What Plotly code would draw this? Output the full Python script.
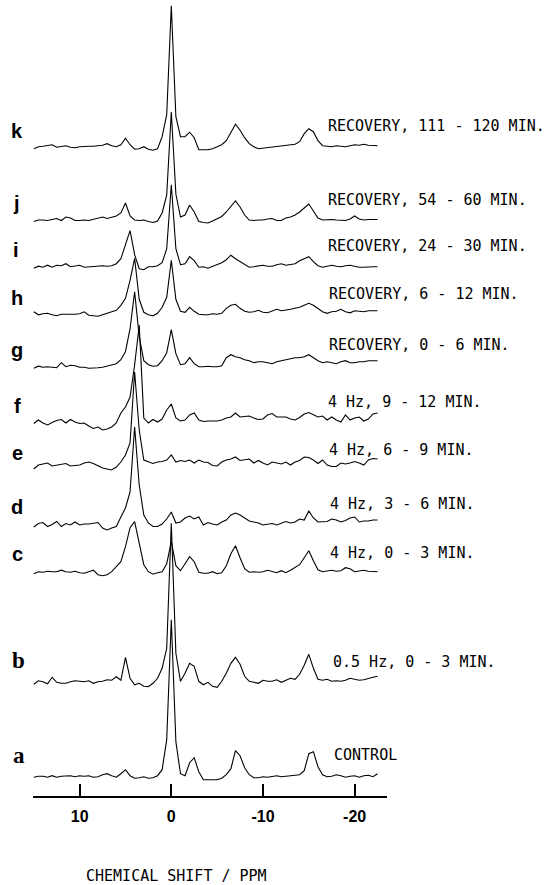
import plotly.graph_objects as go

# ---------------- data ----------------
PPM = [15.0, 14.5, 14.0, 13.5, 13.0, 12.5, 12.0, 11.5, 11.0, 10.5,
       10.0, 9.5, 9.0, 8.5, 8.0, 7.5, 7.0, 6.5, 6.0, 5.5,
       5.0, 4.5, 4.0, 3.5, 3.0, 2.5, 2.0, 1.5, 1.0, 0.5,
       0.0, -0.5, -1.0, -1.5, -2.0, -2.5, -3.0, -3.5, -4.0, -4.5,
       -5.0, -5.5, -6.0, -6.5, -7.0, -7.5, -8.0, -8.5, -9.0, -9.5,
       -10.0, -10.5, -11.0, -11.5, -12.0, -12.5, -13.0, -13.5, -14.0, -14.5,
       -15.0, -15.5, -16.0, -16.5, -17.0, -17.5, -18.0, -18.5, -19.0, -19.5,
       -20.0, -20.5, -21.0, -21.5, -22.0, -22.5]

SPEC_A = [-0.5, 0.5, 0.5, -0.5, 1, -0.5, 0.5, 0.5, 1, 0,
          1, 0.5, 1, -0.5, 0, 2, 3, 1, -0.5, 3,
          7, 1, -1.5, -1, 0, -1.5, -1, 1, 7, 37,
          157, 35, 3, 1, 14, 19, 5, -3, -3, -2.5,
          -3, -1.5, 2, 8, 26, 21, 9, 2, -1, -1,
          0, -0.5, 0, 1, 0, 0.5, 1, 1.5, 2, 6,
          23, 25, 10, 2, 0, 0.5, 2, 1, -0.5, 0.5,
          1, -0.5, 1, 1.5, 0, 3]

SPEC_B = [-1, 2.5, 1.5, -0.5, 6, 1, 0, 0, 1.5, 2.5,
          2, 1.5, 2.5, 0, 1.5, 2, 3.5, 3, 6.5, 3,
          26, 5, -1.5, 0, -3, -3.5, 0, 5, 15, 35,
          160, 30, 2, 10, 20, 17, 2, -1.5, 1, -3,
          -4, 2, 10, 20, 26, 19, 7, 2, 1, 0,
          3, 2, 2, 3.5, 1, 3, 5, 4, 9, 18,
          29, 15, 4, 3, 4, 2, 2.5, 2, 3, 5,
          4, 3, 3.5, 5, 6, 7]

SPEC_C = [-2, 0, -0.5, 0.5, 0, 0, 1.5, 0, -0.5, 0.5,
          -1, -1.5, 0, 1.5, -3, -4, -3, 0, 5, 10,
          25, 44, 50, 30, 7, 0, -2.5, -1, 0, 8,
          30, 6, 1, 8, 15, 10, -0.5, -1.5, -1.5, 0,
          -2, -1, 6, 18, 26, 14, 3, -0.5, 0, -0.5,
          0, 1.5, 0, -1, 1, -1, 1.5, 4, 7, 14,
          21, 11, 2, 0, 1, 1.5, 0.5, 1, 4, 3,
          0, 1, 1.5, 0.5, 0, 0]

SPEC_D = [-2, 1.5, 2.5, -1.5, 0.5, 3.5, -1.5, 1.5, 0, 3,
          0, 1, 1, 2, 2.5, -3, -5, -3, -1.5, 8,
          17, 33, 98, 40, 10, 2, -1.5, -1.5, 1, 6,
          13, 2, 3, 7, 9, 6, 8, 0, 2.5, 1,
          0, 3, 5, 10, 12, 10, 7, 4, 3, 2,
          0, 1, 1.5, 0, 2, 3.5, 2, 3, 6, 5,
          14, 7, 3, 3, 3.5, 6, 5, 3, 4.5, 7,
          8, 3, 4, 4, 5, 5]

SPEC_E = [-4, 0, 1, 2, -1, 0, 0.5, 1.5, -1, -0.5,
          0, 2, 3, 1.5, -1, -3, -4, -5, -2, 3,
          10, 22, 93, 35, 5, 3, 1.5, 3, 3.5, 5,
          10, 3, 4.5, 3.5, 5, 2, 5, 3, 2.5, -0.5,
          -1, 3, 5, 6, 8, 4.5, 5.5, 6, 2, 4.5,
          2, 0, 3, 2, 1, 3, 0, 3, 4.5, 8,
          7.5, 5, 1.5, 5, 0, -1.5, -1.5, 2, 1, 2,
          3.5, 2, 0, 5, 6.5, 6]

SPEC_F = [1.5, 5, 2, 0, 2.5, 4.5, 5.5, 2, 5.5, 3,
          1.5, 2, -1, -3.5, -2, -5, -4, -2, 2, 12,
          18, 28, 60, 100, 7, 2, 5.5, 3, 6, 15,
          21, 7, 4, 5, 10, 12, 5, 3.5, 4, 4,
          4, 5, 7, 8, 12, 8, 8.5, 9, 7, 5.5,
          6, 10, 11.5, 8, 8, 8, 6, 5, 7.5, 11,
          12.5, 10, 8, 9, 5, 8, 5, 3, 10, 5,
          7, 8, 4, 6, 11, 12]

SPEC_G = [-1.5, 0.5, -0.5, 0, -0.5, -1, 4, 0, 1.5, 1,
          -0.5, -0.5, -1.5, -1.5, -1, -0.5, 0.5, 2, 3, 7,
          15, 38, 75, 30, 6, 2, 0.5, 1, 6, 14,
          37, 13, 2, 3, 9, 3, 0, 0, 0.5, 0,
          0, 1, 9, 12, 10, 9, 7, 6, 4, 5,
          5, 4, 3, 5, 6, 7, 8, 9, 9, 10,
          12, 9, 6, 4, 5, 4, 3, 5, 6, 4,
          4, 5, 5, 6, 6, 6]

SPEC_H = [1.5, -1.5, -0.5, 0, -1.5, -2.5, -1, -1, -1.5, -1,
          -0.5, 1.5, -2, -2.5, -3, -1.5, 0, 1, 3, 8,
          15, 33, 55, 14, 1, -1.5, -2.5, 0, 6, 16,
          53, 14, 2, 1, 6, 2, -1, -1.5, -1.5, -0.5,
          -1, 0, 5, 8, 9, 5, 2, 1, 1.5, 3,
          1, 0.5, 2.5, 4, 2.5, 3, 4, 5, 6, 8,
          10, 8, 5, 1.5, 0, 1.5, 2, 4, 1.5, 0.5,
          2.5, 2, 1.5, 2.5, 2.5, 2.5]

SPEC_I = [-1.5, 0.5, -0.5, 1.5, -0.5, 1.5, 1, 3, 0, 0.5,
          1.5, -0.5, 0, 0.5, 1, 1, 0.5, 1, 3, 8,
          22, 36, 12, -2, -3, 0, 0, 1, 4, 18,
          82, 18, 2, 3, 10, 6, -0.5, 0, -1.5, 0.5,
          2, 4, 7, 11.5, 8, 5, 2, -0.5, 0, 0.5,
          1.5, 0.5, 0.5, 2, 3, 1.5, 2, 3, 6, 8,
          10, 5, 1, -0.5, 0.5, 1.5, 0.5, 0, 1, 1.5,
          0.5, -0.5, -0.5, 0, 0, 0]

SPEC_J = [-1.5, 0, 0, -0.5, 0.5, 1.5, -0.5, 3, 2, -0.5,
          -0.5, 0, -0.5, 0.5, 1.5, 3, 1.5, 2.5, 4, 7,
          17, 4, 0, -0.5, 0, -1.5, -2.5, -1, 7, 25,
          108, 26, 3, 5, 15, 8, -1.5, -2.5, -3, -1,
          1, 3.5, 8, 14, 19, 13, 5, 0, -0.5, 0,
          0, 1, 1.5, -0.5, -0.5, 2, 3, 5, 8, 12,
          16, 9, 2, 0, 0.5, 0.5, 0, 0, -0.5, 1,
          4, 1, 0, 0.5, 0.5, 0.5]

SPEC_K = [-2, 0, 0.5, 1.5, 2, -0.5, 0.5, 1, -0.5, -1,
          0, 0.5, 0.5, 0.5, 1, 1.5, 3, 1, 0, 2,
          8.5, 2, -2.5, -2, 0, -2.5, -3.5, -2, 10, 32,
          141, 30, 10, 10, 14.5, 9, -3, -3, -3, -2,
          0, 2, 6, 14, 22.5, 16.5, 9, 3, 0, -2,
          -1.5, -0.5, 0, 0, 0.5, 1, 1.5, 2.5, 5, 13,
          18, 15, 6, 1, 0.5, 0, 1, 0.5, 0, 1,
          2, 1.5, 2.5, 1.5, 1, 1]

LETTERS = ["a", "b", "c", "d", "e", "f", "g", "h", "i", "j", "k"]
CONDITIONS = ["CONTROL", "0.5 Hz, 0 - 3 MIN.", "4 Hz, 0 - 3 MIN.",
              "4 Hz, 3 - 6 MIN.", "4 Hz, 6 - 9 MIN.", "4 Hz, 9 - 12 MIN.",
              "RECOVERY, 0 - 6 MIN.", "RECOVERY, 6 - 12 MIN.",
              "RECOVERY, 24 - 30 MIN.", "RECOVERY, 54 - 60 MIN.",
              "RECOVERY, 111 - 120 MIN."]
TICK_VALUES = [10, 0, -10, -20]
TICK_LABELS = ["10", "0", "-10", "-20"]
AXIS_TITLE = "CHEMICAL SHIFT / PPM"

SPECTRA = [SPEC_A, SPEC_B, SPEC_C, SPEC_D, SPEC_E, SPEC_F,
           SPEC_G, SPEC_H, SPEC_I, SPEC_J, SPEC_K]

# ---------------- layout (pixels) ----------------
W, H = 554, 885
AXIS_PX = 796              # pixel row of the x axis line
AX_LEFT, AX_RIGHT = 33, 387
PX0, PX_PER_PPM = 171.3, 9.167   # pixel column of 0 ppm, scale
BASE_PX = [776.7, 683.3, 571.7, 525, 465, 425, 366.7, 313.3, 266.7, 220, 146.7]
LETTER_Y = [755, 660, 554, 507, 453, 406, 350, 298, 250, 203, 131]
LETTER_X = [19, 18, 17, 17, 17, 17, 17, 17, 16, 16, 17]
COND_Y = [755, 661.5, 553.3, 504.3, 450, 401.7, 345, 294, 245.7, 200, 126]
COND_X = [331.5, 330.5, 328, 328, 327, 326, 327, 327, 326, 326, 326]


def ppm_at(px):
    return (PX0 - px) / PX_PER_PPM


def px_x(px):
    return px / W


def px_y(py):
    return (AXIS_PX - py) / AXIS_PX


fig = go.Figure()
for spec, base in zip(SPECTRA, BASE_PX):
    off = AXIS_PX - base
    fig.add_trace(go.Scatter(
        x=PPM, y=[off + v for v in spec], mode="lines",
        line=dict(color="black", width=1.1), hoverinfo="skip",
        showlegend=False, cliponaxis=False))

ann = []
for i, (lt, cond) in enumerate(zip(LETTERS, CONDITIONS)):
    fam = "Liberation Serif" if lt in ("a", "b") else "Liberation Sans"
    size = 23 if lt in ("a", "b") else 20
    ann.append(dict(x=px_x(LETTER_X[i]), y=px_y(LETTER_Y[i]), xref="paper", yref="paper",
                    text=lt, showarrow=False, xanchor="center", yanchor="middle",
                    font=dict(family=fam, size=size, color="black", weight="bold")))
    ann.append(dict(x=px_x(COND_X[i]), y=px_y(COND_Y[i]), xref="paper", yref="paper",
                    text=cond, showarrow=False, xanchor="left", yanchor="middle",
                    font=dict(family="DejaVu Sans Mono", size=15, color="black")))
ann.append(dict(x=px_x(84), y=px_y(876), xref="paper", yref="paper",
                text=AXIS_TITLE, showarrow=False, xanchor="left", yanchor="middle",
                font=dict(family="DejaVu Sans Mono", size=15, color="black")))

fig.update_layout(
    width=W, height=H,
    margin=dict(l=0, r=0, t=0, b=H - AXIS_PX, pad=0),
    paper_bgcolor="white", plot_bgcolor="white",
    showlegend=False,
    annotations=ann,
    xaxis=dict(domain=[AX_LEFT / W, AX_RIGHT / W],
               range=[ppm_at(AX_LEFT), ppm_at(AX_RIGHT)],
               showgrid=False, zeroline=False,
               showline=True, linecolor="black", linewidth=2,
               ticks="inside", ticklen=12, tickwidth=2, tickcolor="black",
               tickvals=TICK_VALUES, ticktext=TICK_LABELS,
               ticklabelstandoff=5,
               tickfont=dict(family="Liberation Sans", size=16, color="black", weight="bold")),
    yaxis=dict(range=[0, AXIS_PX], visible=False, showgrid=False, zeroline=False),
)

fig.write_html("out.html", config={"displayModeBar": False})
